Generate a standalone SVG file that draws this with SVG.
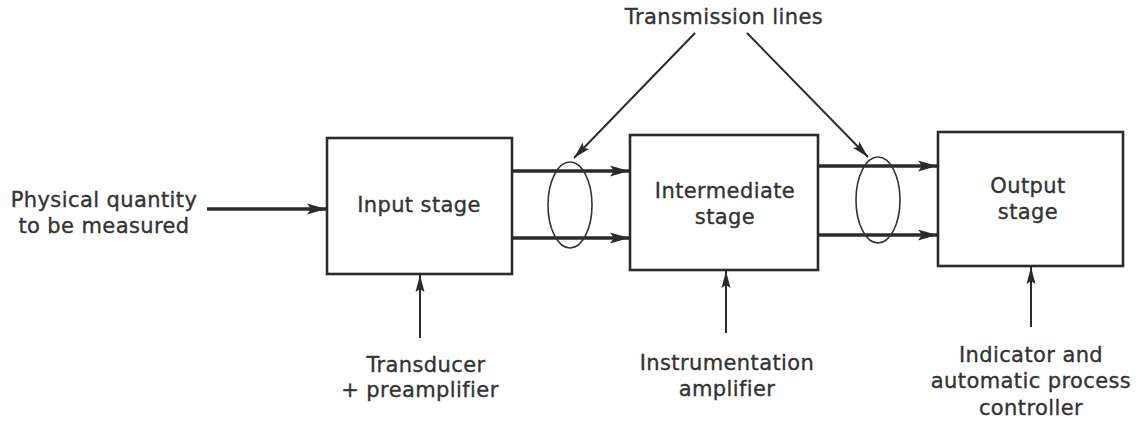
<svg xmlns="http://www.w3.org/2000/svg" width="1140" height="423" viewBox="0 0 1140 423">
<style>
.box{fill:#fff;stroke:#2b2b2b;stroke-width:2.6}
.t{font-family:"DejaVu Sans",sans-serif;font-size:21px;letter-spacing:0.4px;fill:#333;stroke:#333;stroke-width:0.35;text-anchor:middle}
.thick{stroke:#2b2b2b;stroke-width:3.6;fill:none}
.thin{stroke:#2b2b2b;stroke-width:2;fill:none}
.ell{fill:none;stroke:#333;stroke-width:1.6}
</style>
<defs>
<marker id="ah" markerUnits="userSpaceOnUse" markerWidth="20" markerHeight="12" refX="19" refY="6" orient="auto">
<path d="M0,0.5 L19,6 L0,11.5 L4,6 Z" fill="#2b2b2b"/>
</marker>
<marker id="ahs" markerUnits="userSpaceOnUse" markerWidth="18" markerHeight="10" refX="17" refY="5" orient="auto">
<path d="M0,0.5 L17,5 L0,9.5 L3,5 Z" fill="#2b2b2b"/>
</marker>
</defs>
<rect width="1140" height="423" fill="#fff"/>
<g id="connectors">
<line class="thick" x1="207" y1="209" x2="326" y2="209" marker-end="url(#ah)"/>
<line class="thick" x1="513" y1="171" x2="629" y2="171" marker-end="url(#ah)"/>
<line class="thick" x1="513" y1="238" x2="629" y2="238" marker-end="url(#ah)"/>
<line class="thick" x1="819" y1="166" x2="937" y2="166" marker-end="url(#ah)"/>
<line class="thick" x1="819" y1="235" x2="937" y2="235" marker-end="url(#ah)"/>
<line class="thin" x1="420" y1="338" x2="420" y2="275" marker-end="url(#ahs)"/>
<line class="thin" x1="726" y1="333" x2="726" y2="271" marker-end="url(#ahs)"/>
<line class="thin" x1="1031" y1="327" x2="1031" y2="267" marker-end="url(#ahs)"/>
<line class="thin" x1="695" y1="33" x2="574" y2="158" marker-end="url(#ahs)"/>
<line class="thin" x1="747" y1="33" x2="868" y2="157" marker-end="url(#ahs)"/>
<ellipse class="ell" cx="570" cy="205" rx="22" ry="43"/>
<ellipse class="ell" cx="878" cy="200" rx="22" ry="43"/>
</g>
<g id="input-stage">
<rect class="box" x="327" y="138" width="185" height="136"/>
<text class="t" x="419" y="212">Input stage</text>
</g>
<g id="intermediate-stage">
<rect class="box" x="630" y="135" width="188" height="135"/>
<text class="t" x="725" y="198">Intermediate</text>
<text class="t" x="725" y="224">stage</text>
</g>
<g id="output-stage">
<rect class="box" x="938" y="132" width="185" height="134"/>
<text class="t" x="1028" y="193">Output</text>
<text class="t" x="1028" y="219">stage</text>
</g>
<g id="physical-quantity">
<text class="t" x="104" y="207">Physical quantity</text>
<text class="t" x="104" y="233">to be measured</text>
</g>
<g id="transmission-lines">
<text class="t" x="724" y="24">Transmission lines</text>
</g>
<g id="transducer">
<text class="t" x="426" y="372">Transducer</text>
<text class="t" x="420" y="397">+ preamplifier</text>
</g>
<g id="instrumentation-amplifier">
<text class="t" x="727" y="370">Instrumentation</text>
<text class="t" x="727" y="396">amplifier</text>
</g>
<g id="indicator">
<text class="t" x="1031" y="362">Indicator and</text>
<text class="t" x="1031" y="388">automatic process</text>
<text class="t" x="1031" y="415">controller</text>
</g>
</svg>
